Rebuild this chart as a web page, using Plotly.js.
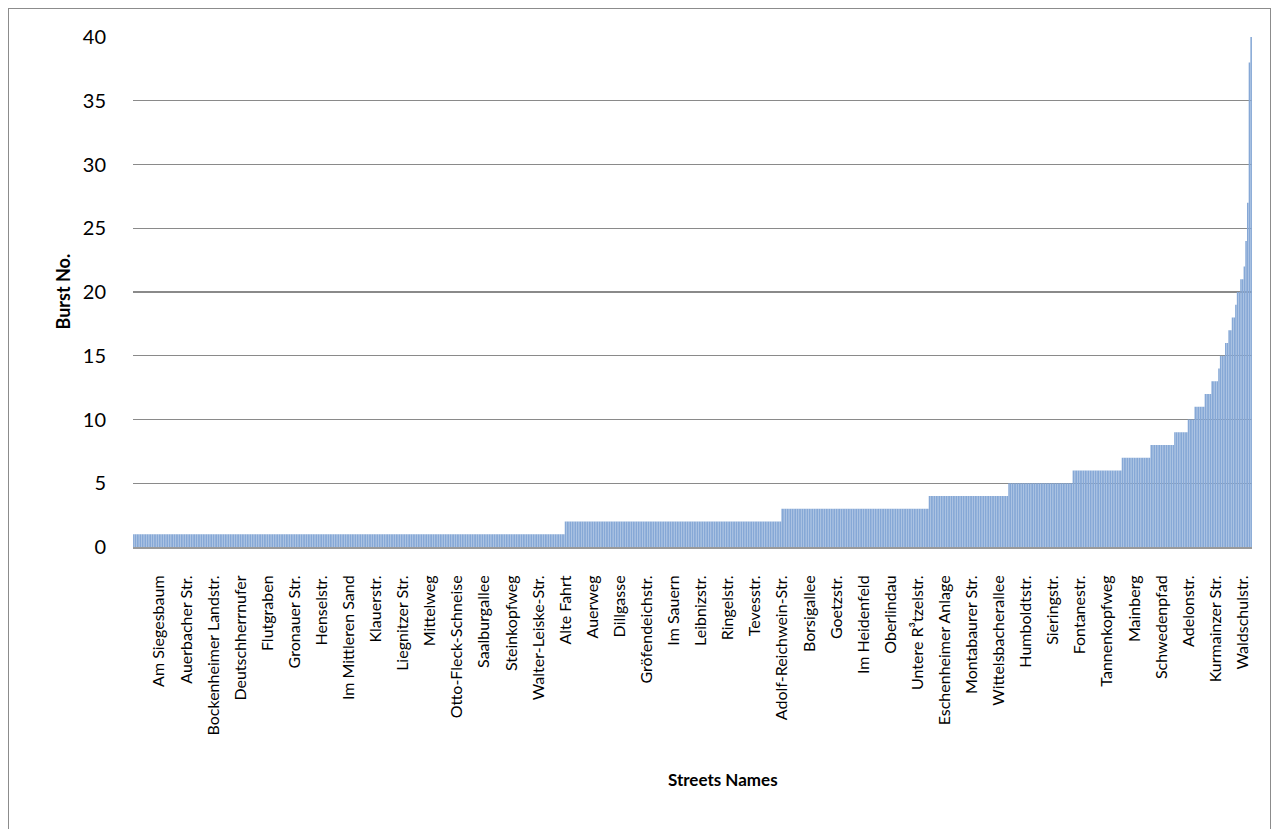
<!DOCTYPE html>
<html>
<head>
<meta charset="utf-8">
<script src="https://cdn.plot.ly/plotly-3.0.1.min.js"></script>
<style>
  html, body { margin: 0; padding: 0; background: #ffffff; }
  #frame {
    position: absolute; left: 8px; top: 8px; width: 1263px; height: 840px;
    border: 1px solid #8c8c8c; box-sizing: border-box;
  }
  #chart { position: absolute; left: 0; top: 0; width: 1280px; height: 829px; }
</style>
</head>
<body>
<div id="frame"></div>
<div id="chart"></div>
<script>
// Burst counts per street, sorted ascending. Streets sharing a count are
// stored as runs: burstLevels[i] bursts for runLengths[i] consecutive streets.
const burstLevels = [1, 2, 3, 4, 5, 6, 7, 8, 9, 10, 11, 12, 13, 14, 15, 16, 17, 18, 19, 20, 21, 22, 24, 27, 38, 40];
const runLengths  = [255, 128, 87, 47, 38, 29, 17, 14, 8, 4, 6, 4, 4, 1, 3, 2, 2, 2, 1, 2, 2, 1, 1, 1, 1, 1];

// Every 16th street name is printed on the category axis.
const labelStep = 16;
const firstLabelIndex = 15;
const streetLabels = [
  "Am Siegesbaum", "Auerbacher Str.", "Bockenheimer Landstr.", "Deutschherrnufer",
  "Flutgraben", "Gronauer Str.", "Henselstr.", "Im Mittleren Sand", "Klauerstr.",
  "Liegnitzer Str.", "Mittelweg", "Otto-Fleck-Schneise", "Saalburgallee",
  "Steinkopfweg", "Walter-Leiske-Str.", "Alte Fahrt", "Auerweg", "Dillgasse",
  "Gröfendeichstr.", "Im Sauern", "Leibnizstr.", "Ringelstr.", "Tevesstr.",
  "Adolf-Reichwein-Str.", "Borsigallee", "Goetzstr.", "Im Heidenfeld", "Oberlindau",
  "Untere R³tzelstr.", "Eschenheimer Anlage", "Montabaurer Str.", "Wittelsbacherallee",
  "Humboldtstr.", "Sieringstr.", "Fontanestr.", "Tannenkopfweg", "Mainberg",
  "Schwedenpfad", "Adelonstr.", "Kurmainzer Str.", "Waldschulstr."
];

const yTicks = [0, 5, 10, 15, 20, 25, 30, 35, 40];

// Expand the runs into one bar per street.
const bursts = [];
burstLevels.forEach((lvl, i) => {
  for (let k = 0; k < runLengths[i]; k++) bursts.push(lvl);
});
const streetIndex = bursts.map((_, i) => i);
const labelPositions = streetLabels.map((_, i) => firstLabelIndex + i * labelStep);

const FONT = "Lato, 'Liberation Sans', sans-serif";

const trace = {
  type: "bar",
  x: streetIndex,
  y: bursts,
  marker: { color: "#86a8d6", line: { width: 0 } },
  hoverinfo: "skip"
};

const layout = {
  width: 1280,
  height: 829,
  margin: { l: 133, r: 28, t: 37, b: 282 },
  paper_bgcolor: "rgba(0,0,0,0)",
  plot_bgcolor: "rgba(0,0,0,0)",
  bargap: 0.08,
  showlegend: false,
  font: { family: FONT, color: "#000000" },
  xaxis: {
    range: [-0.5, bursts.length - 0.5],
    tickmode: "array",
    tickvals: labelPositions,
    ticktext: streetLabels,
    tickangle: -90,
    tickfont: { family: FONT, size: 16, color: "#000000" },
    ticks: "",
    ticklabelstandoff: 20,
    showgrid: false,
    zeroline: false,
    showline: true,
    linecolor: "#9a9a9a",
    linewidth: 2
  },
  yaxis: {
    range: [0, 40],
    tickmode: "array",
    tickvals: yTicks,
    tickfont: { family: FONT, size: 20, color: "#000000" },
    ticks: "",
    ticklabelstandoff: 26,
    showgrid: true,
    gridcolor: "#8a8a8a",
    gridwidth: 1.4,
    zeroline: false,
    showline: false
  },
  annotations: [
    {
      text: "<b>Streets Names</b>",
      xref: "paper", yref: "paper",
      x: 0.527, y: -0.455,
      xanchor: "center", yanchor: "middle",
      showarrow: false,
      font: { family: FONT, size: 17, color: "#000000" }
    },
    {
      text: "<b>Burst No.</b>",
      xref: "paper", yref: "paper",
      x: -0.063, y: 0.5,
      xanchor: "center", yanchor: "middle",
      textangle: -90,
      showarrow: false,
      font: { family: FONT, size: 18, color: "#000000" }
    }
  ]
};

Plotly.newPlot("chart", [trace], layout, { staticPlot: true, displayModeBar: false });
</script>
</body>
</html>
